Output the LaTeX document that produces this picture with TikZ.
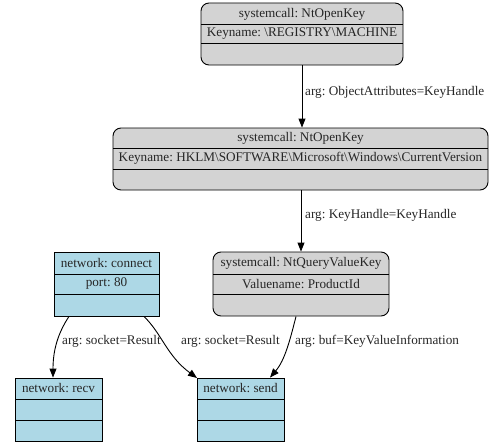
\documentclass[tikz,border=0pt]{standalone}
\usepackage{fontspec}
\setmainfont{Liberation Serif}
\usetikzlibrary{arrows.meta,calc}
\definecolor{gfill}{HTML}{D3D3D3}
\definecolor{bfill}{HTML}{ADD8E6}
\tikzset{
  graybox/.style={draw=black, line width=0.9pt, fill=gfill, rounded corners=8pt, inner sep=0pt},
  bluebox/.style={draw=black, line width=0.9pt, fill=bfill, inner sep=0pt},
  sepline/.style={draw=black, line width=0.9pt},
  txt/.style={inner sep=0pt, font=\fontsize{13.2}{15}\selectfont\frenchspacing, text=black!85},
  lbl/.style={inner sep=0pt, anchor=west, font=\fontsize{13.2}{15}\selectfont\frenchspacing, text=black!85},
  arr/.style={draw=black, line width=0.9pt, -{Stealth[length=9pt,width=7pt,inset=0pt]}},
}
\begin{document}
\begin{tikzpicture}[x=1pt,y=-1pt]
\useasboundingbox (0,0) rectangle (489,444);
% node 1
\node[graybox, minimum width=202pt, minimum height=62pt] (n1) at (302,34) {};
\draw[sepline] (201,24) -- (403,24);
\draw[sepline] (201,43) -- (403,43);
\node[txt] (n1a) at (302,14) {systemcall: NtOpenKey};
\node[txt] (n1b) at (302,33.5) {Keyname: \textbackslash REGISTRY\textbackslash MACHINE};
% node 2
\node[graybox, minimum width=375pt, minimum height=62pt] (n2) at (300.5,159) {};
\draw[sepline] (113,148.5) -- (488,148.5);
\draw[sepline] (113,169) -- (488,169);
\node[txt] (n2a) at (300.5,138.5) {systemcall: NtOpenKey};
\node[txt] (n2b) at (300.5,158.5) {Keyname: HKLM\textbackslash SOFTWARE\textbackslash Microsoft\textbackslash Windows\textbackslash CurrentVersion};
% node 3
\node[graybox, minimum width=176pt, minimum height=64pt] (n3) at (301,284) {};
\draw[sepline] (213,274) -- (389,274);
\draw[sepline] (213,294.5) -- (389,294.5);
\node[txt] (n3a) at (301,263) {systemcall: NtQueryValueKey};
\node[txt] (n3b) at (301,284) {Valuename: ProductId};
% connect
\node[bluebox, minimum width=105pt, minimum height=64pt] (nc) at (106.5,284) {};
\draw[sepline] (54,274) -- (159,274);
\draw[sepline] (54,294.5) -- (159,294.5);
\node[txt] (nca) at (106.5,263) {network: connect};
\node[txt] (ncb) at (106.5,284) {port: 80};
% recv
\node[bluebox, minimum width=87pt, minimum height=63pt] (nr) at (58.5,409.5) {};
\draw[sepline] (15,399) -- (102,399);
\draw[sepline] (15,420) -- (102,420);
\node[txt] (nra) at (58.5,388.5) {network: recv};
% send
\node[bluebox, minimum width=87pt, minimum height=63pt] (ns) at (240.5,409.5) {};
\draw[sepline] (197,399) -- (284,399);
\draw[sepline] (197,420) -- (284,420);
\node[txt] (nsa) at (240.5,388.5) {network: send};
% edges
\draw[arr] (302,0 |- n1.south) -- (302,0 |- n2.north);
\node[lbl] (l1) at (305,92) {arg: ObjectAttributes=KeyHandle};
\draw[arr] (301,0 |- n2.south) -- (301,0 |- n3.north);
\node[lbl] (l2) at (305,215) {arg: KeyHandle=KeyHandle};
\draw[arr] (69,0 |- nc.south) .. controls (58,333) and (53,350) .. (53,0 |- nr.north);
\node[lbl] (l3) at (62,341) {arg: socket=Result};
\draw[arr] (144,0 |- nc.south) .. controls (162,334) and (167,356) .. (197,378);
\node[lbl] (l4) at (181,341) {arg: socket=Result};
\draw[arr] (296,0 |- n3.south) .. controls (290,340) and (285,360) .. (270,0 |- ns.north);
\node[lbl] (l5) at (295,341) {arg: buf=KeyValueInformation};
\end{tikzpicture}
\end{document}
